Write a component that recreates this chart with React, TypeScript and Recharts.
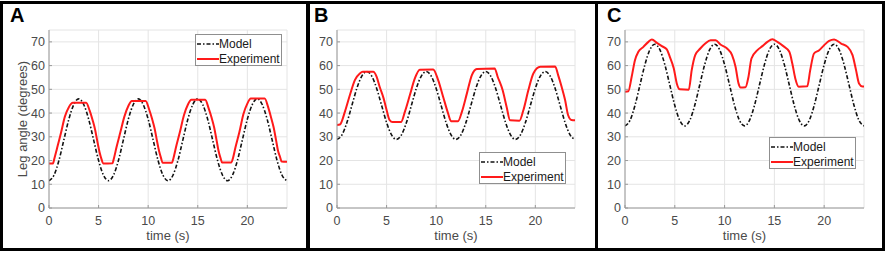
import React from 'react';
import { LineChart, Line, XAxis, YAxis, CartesianGrid, Legend } from 'recharts';

const xTicks = [0, 5, 10, 15, 20];
const yTicks = [0, 10, 20, 30, 40, 50, 60, 70];
const panelLabels = ['A', 'B', 'C'];
const seriesNames = ['Model', 'Experiment'];

const modelTimes = [
  0, 0.5, 1, 1.5, 2, 2.5, 3, 3.5, 4, 4.5, 5, 5.5,
  6, 6.5, 7, 7.5, 8, 8.5, 9, 9.5, 10, 10.5, 11, 11.5,
  12, 12.5, 13, 13.5, 14, 14.5, 15, 15.5, 16, 16.5, 17, 17.5,
  18, 18.5, 19, 19.5, 20, 20.5, 21, 21.5, 22, 22.5, 23, 23.5, 24,
];
const modelA = [
  11.5, 13.8, 20.0, 28.7, 37.4, 43.6, 46.0, 43.6, 37.4, 28.7, 20.0, 13.8,
  11.5, 13.8, 20.0, 28.7, 37.4, 43.6, 46.0, 43.6, 37.4, 28.7, 20.0, 13.8,
  11.5, 13.8, 20.0, 28.7, 37.4, 43.6, 46.0, 43.6, 37.4, 28.7, 20.0, 13.8,
  11.5, 13.8, 20.0, 28.7, 37.4, 43.6, 46.0, 43.6, 37.4, 28.7, 20.0, 13.8, 11.5,
];
const modelB = [
  28.9, 30.8, 36.0, 43.2, 50.4, 55.6, 57.5, 55.6, 50.4, 43.2, 36.0, 30.8,
  28.9, 30.8, 36.0, 43.2, 50.4, 55.6, 57.5, 55.6, 50.4, 43.2, 36.0, 30.8,
  28.9, 30.8, 36.0, 43.2, 50.4, 55.6, 57.5, 55.6, 50.4, 43.2, 36.0, 30.8,
  28.9, 30.8, 36.0, 43.2, 50.4, 55.6, 57.5, 55.6, 50.4, 43.2, 36.0, 30.8, 28.9,
];
const modelC = [
  34.6, 36.9, 43.2, 51.8, 60.4, 66.7, 69.0, 66.7, 60.4, 51.8, 43.2, 36.9,
  34.6, 36.9, 43.2, 51.8, 60.4, 66.7, 69.0, 66.7, 60.4, 51.8, 43.2, 36.9,
  34.6, 36.9, 43.2, 51.8, 60.4, 66.7, 69.0, 66.7, 60.4, 51.8, 43.2, 36.9,
  34.6, 36.9, 43.2, 51.8, 60.4, 66.7, 69.0, 66.7, 60.4, 51.8, 43.2, 36.9, 34.6,
];

const expTimesA = [
  0, 0.4, 0.55, 0.8, 1.2, 1.6, 2.0, 2.4, 3.75, 4.1, 4.4, 4.65, 4.9, 5.1, 5.3, 5.45,
  6.4, 6.55, 6.8, 7.2, 7.6, 8.0, 8.35, 9.75, 10.1, 10.4, 10.65, 10.9, 11.1, 11.3, 11.45,
  12.4, 12.55, 12.8, 13.2, 13.6, 14.0, 14.35, 15.75, 16.1, 16.4, 16.65, 16.9, 17.1, 17.3, 17.45,
  18.4, 18.55, 18.8, 19.2, 19.6, 20.0, 20.35, 21.75, 22.1, 22.4, 22.65, 22.9, 23.1, 23.3, 23.45, 24,
];
const expA = [
  18.8, 18.8, 21, 25, 31.5, 38.5, 42.5, 44.3, 44.3, 41, 37, 33, 27.5, 23.5, 20.5, 18.8,
  18.9, 21, 25.5, 32, 38.5, 43, 45.1, 45.1, 41.5, 37.5, 33.5, 28, 24, 21, 19.1,
  19.1, 21, 25.5, 32, 39, 43.5, 45.6, 45.6, 42, 38, 34, 28.5, 24, 21, 19.2,
  19.2, 21, 25.5, 32, 39.5, 44, 46.1, 46.1, 42.5, 38, 34, 28.5, 24, 21.5, 19.6, 19.5,
];

const expTimesB = [
  0, 0.3, 0.8, 1.3, 1.8, 2.3, 2.6, 3.65, 4.0, 4.3, 4.7, 5.0, 5.3, 5.6,
  6.45, 6.85, 7.35, 7.85, 8.35, 9.7, 10.2, 10.7, 11.2, 11.5,
  12.2, 12.6, 13.1, 13.6, 14.1, 15.9, 16.2, 16.7, 17.1, 17.45,
  18.4, 18.8, 19.3, 19.8, 20.5, 22.0, 22.3, 22.65, 23.0, 23.3, 23.65, 24,
];
const expB = [
  35, 35.2, 40.6, 47.6, 53.9, 56.7, 57.4, 57.4, 55.3, 51.1, 46.2, 41.3, 37.1, 36.2,
  36.2, 40.6, 47.6, 54.6, 58.3, 58.4, 53.9, 46.9, 39.9, 36.6,
  36.6, 40.6, 48.3, 56, 58.6, 58.8, 55.3, 49.7, 42.7, 37,
  36.8, 41.3, 49.7, 56.7, 59.5, 59.6, 56, 51.1, 45.5, 39.2, 37.1, 37,
];

const expTimesC = [
  0, 0.34, 0.67, 1.0, 1.34, 1.85, 2.35, 2.7, 3.2, 3.7, 4.2, 4.5, 4.9, 5.2, 5.5,
  6.4, 6.7, 7.05, 7.56, 8.06, 8.6, 9.1, 9.58, 10.25, 10.75, 11.1, 11.4, 11.6,
  12.1, 12.4, 12.7, 13.3, 13.8, 14.3, 14.8, 15.3, 15.9, 16.5, 16.8, 17.1, 17.45,
  18.3, 18.6, 18.98, 19.5, 20.0, 20.5, 21.0, 21.7, 22.35, 22.85, 23.2, 23.5, 23.85, 24,
];
const expC = [
  49, 49.2, 55.3, 62.3, 65.8, 67.9, 70, 71, 69.6, 68.2, 66.8, 63.7, 58.8, 52.5, 50,
  49.8, 58.1, 64.4, 67.2, 69.3, 70.7, 70.7, 68.9, 67.2, 64.4, 59.5, 52.5, 50.8,
  50.9, 55.3, 63, 66.5, 68.2, 70, 71.1, 70, 68.2, 65.8, 60.9, 54.6, 51.1,
  51.3, 58.1, 65.1, 66.5, 68.6, 70.4, 71, 69.3, 67.9, 64.4, 58.1, 52.5, 51.2, 51.2,
];

const zip = (ts: number[], vs: number[]) => ts.map((t, i) => ({ t, v: vs[i] }));

const FONT = '"Liberation Sans", Arial, Helvetica, sans-serif';
const TICK_COLOR = '#4a4a4a';
const AXIS_COLOR = '#9a9a9a';
const GRID_COLOR = '#e4e4e4';
const RED = '#ff1a1a';

const seriesStyle: Record<string, { color: string; dash?: string; width: number }> = {
  Model: { color: '#111111', dash: '4 2 1.5 2', width: 1.6 },
  Experiment: { color: RED, width: 2 },
};

const LegendBox = (props: any) => {
  const payload = [...(props.payload || [])].sort(
    (a: any, b: any) => seriesNames.indexOf(a.value) - seriesNames.indexOf(b.value),
  );
  return (
    <div
      style={{
        border: '1px solid #8f8f8f',
        background: '#fff',
        width: 87,
        height: 32,
        boxSizing: 'border-box',
        paddingTop: 1,
        paddingLeft: 1,
        fontFamily: FONT,
        fontSize: 12,
        color: '#1a1a1a',
      }}
    >
      {payload.map((e: any) => {
        const s = seriesStyle[e.value];
        return (
          <div key={e.value} style={{ display: 'flex', alignItems: 'center', height: 15, whiteSpace: 'nowrap' }}>
            <svg width={22} height={6} style={{ flex: '0 0 auto' }}>
              <line x1={0} y1={3} x2={22} y2={3} stroke={s.color} strokeWidth={s.width} strokeDasharray={s.dash} />
            </svg>
            <span>{e.value}</span>
          </div>
        );
      })}
    </div>
  );
};

type PanelProps = {
  left: number;
  width: number;
  marginLeft: number;
  yAxisWidth: number;
  model: { t: number; v: number }[];
  exp: { t: number; v: number }[];
  legendLeft: number;
  legendTop: number;
  yLabel?: string;
};

const Panel = ({ left, width, marginLeft, yAxisWidth, model, exp, legendLeft, legendTop, yLabel }: PanelProps) => (
  <div style={{ position: 'absolute', left, top: 0 }}>
    <LineChart
      width={width}
      height={250}
      margin={{ top: 30, right: 20, bottom: 6, left: marginLeft }}
      style={{ fontFamily: FONT }}
    >
      <CartesianGrid stroke={GRID_COLOR} strokeWidth={1} />
      <XAxis
        type="number"
        dataKey="t"
        domain={[0, 24]}
        ticks={xTicks}
        allowDataOverflow
        height={36}
        tickSize={-3}
        tickMargin={11}
        tickLine={{ stroke: AXIS_COLOR }}
        axisLine={{ stroke: AXIS_COLOR }}
        tick={{ fill: TICK_COLOR, fontSize: 12.5 }}
        label={{ value: 'time (s)', position: 'insideBottom', offset: 4, fill: TICK_COLOR, fontSize: 13 }}
      />
      <XAxis
        xAxisId="top"
        orientation="top"
        type="number"
        dataKey="t"
        domain={[0, 24]}
        ticks={xTicks}
        allowDataOverflow
        height={0}
        tickSize={-3}
        tick={false}
        tickLine={{ stroke: AXIS_COLOR }}
        axisLine={{ stroke: AXIS_COLOR }}
      />
      <YAxis
        type="number"
        domain={[0, 75]}
        ticks={yTicks}
        allowDataOverflow
        width={yAxisWidth}
        tickSize={-3}
        tickMargin={7}
        tickLine={{ stroke: AXIS_COLOR }}
        axisLine={{ stroke: AXIS_COLOR }}
        tick={{ fill: TICK_COLOR, fontSize: 12.5 }}
        label={
          yLabel
            ? { value: yLabel, angle: -90, position: 'insideLeft', offset: 3, fill: TICK_COLOR, fontSize: 13, style: { textAnchor: 'middle' } }
            : undefined
        }
      />
      <YAxis
        yAxisId="right"
        orientation="right"
        type="number"
        domain={[0, 75]}
        ticks={yTicks}
        allowDataOverflow
        width={0}
        tickSize={-3}
        tick={false}
        tickLine={{ stroke: AXIS_COLOR }}
        axisLine={{ stroke: AXIS_COLOR }}
      />
      <Legend
        layout="vertical"
        align="center"
        verticalAlign="middle"
        content={<LegendBox />}
        wrapperStyle={{ left: legendLeft, top: legendTop, width: 87, height: 32 }}
      />
      <Line
        data={model}
        dataKey="v"
        name={seriesNames[0]}
        type="monotone"
        stroke={seriesStyle.Model.color}
        strokeWidth={seriesStyle.Model.width}
        strokeDasharray={seriesStyle.Model.dash}
        dot={false}
        activeDot={false}
        isAnimationActive={false}
      />
      <Line
        data={exp}
        dataKey="v"
        name={seriesNames[1]}
        type="monotone"
        stroke={seriesStyle.Experiment.color}
        strokeWidth={seriesStyle.Experiment.width}
        dot={false}
        activeDot={false}
        isAnimationActive={false}
      />
    </LineChart>
  </div>
);

const frameStyle = (left: number, width: number): React.CSSProperties => ({
  position: 'absolute',
  left,
  top: 1,
  width,
  height: 250,
  border: '3px solid #000',
  boxSizing: 'border-box',
});

const letterStyle = (left: number): React.CSSProperties => ({
  position: 'absolute',
  left,
  top: 5,
  fontFamily: FONT,
  fontWeight: 'bold',
  fontSize: 20,
  color: '#000',
  lineHeight: '20px',
});

export default function App() {
  return (
    <div style={{ position: 'absolute', left: 0, top: 0, width: 886, height: 253, background: '#fff', overflow: 'hidden' }}>
      <div style={frameStyle(0, 310)} />
      <div style={frameStyle(306, 292)} />
      <div style={frameStyle(595, 290)} />
      <div style={letterStyle(10)}>{panelLabels[0]}</div>
      <div style={letterStyle(314)}>{panelLabels[1]}</div>
      <div style={letterStyle(607)}>{panelLabels[2]}</div>
      <Panel
        left={0}
        width={307}
        marginLeft={19}
        yAxisWidth={30}
        model={zip(modelTimes, modelA)}
        exp={zip(expTimesA, expA)}
        legendLeft={195}
        legendTop={34}
        yLabel="Leg angle (degrees)"
      />
      <Panel
        left={308}
        width={287}
        marginLeft={4}
        yAxisWidth={25}
        model={zip(modelTimes, modelB)}
        exp={zip(expTimesB, expB)}
        legendLeft={171}
        legendTop={152}
      />
      <Panel
        left={595}
        width={289}
        marginLeft={5}
        yAxisWidth={25}
        model={zip(modelTimes, modelC)}
        exp={zip(expTimesC, expC)}
        legendLeft={174}
        legendTop={137}
      />
    </div>
  );
}
